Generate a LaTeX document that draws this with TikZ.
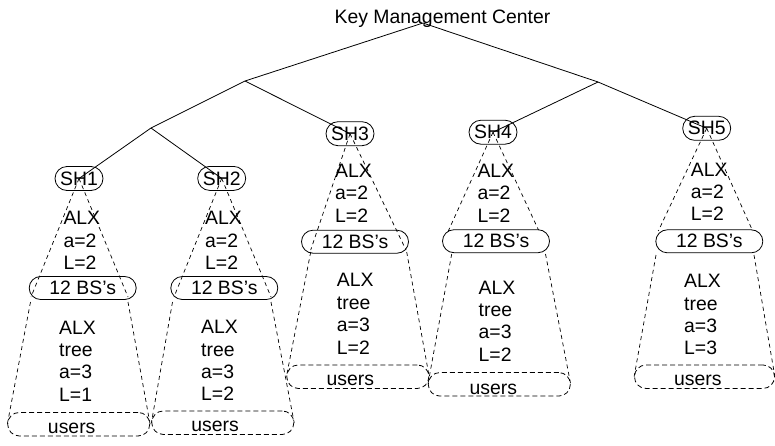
\documentclass[tikz,border=0pt]{standalone}
\usepackage{fontspec}
\setmainfont{Liberation Sans}
\begin{document}
\begin{tikzpicture}[x=1pt,y=-1pt,
  every node/.style={font=\fontsize{19.4}{22.4}\selectfont, inner sep=0pt},
  link/.style={line width=0.8pt},
  cone/.style={line width=0.7pt, dash pattern=on 4pt off 3.5pt},
  shbox/.style={draw, line width=0.8pt, rounded corners=12pt, minimum width=48pt, minimum height=24pt},
  bsbox/.style={draw, line width=0.8pt, rounded corners=11.5pt, minimum width=107pt, minimum height=23pt},
  userbox/.style={draw, line width=0.8pt, dash pattern=on 5pt off 3pt, rounded corners=11.5pt, minimum width=142pt, minimum height=23.5pt},
  params/.style={anchor=north west, align=left},
]
\useasboundingbox (0,0) rectangle (775,445);

% key management center and the branching points of the tree
\node[anchor=base] (kmc) at (442.5,23) {Key Management Center};
\coordinate (root) at (423,23);
\coordinate (j1) at (245,81);
\coordinate (j2) at (151,128);
\coordinate (j3) at (598,82);

% column 1
\node[shbox] (sh1) at (79,178.5) {SH1};
\node[params] (up1) at (63.3,211.1) {ALX\\a=2\\L=2};
\node[bsbox] (bs1) at (82.7,288) {12 BS’s};
\node[params] (lo1) at (59,320.6) {ALX\\tree\\a=3\\L=1};
\node[userbox] (ub1) at (78.7,424.2) {};
\node[anchor=base] (ut1) at (71.7,433) {users};
\coordinate (c1a) at (31,297);
\coordinate (c1b) at (128,297);
\coordinate (c1c) at (30.5,302);
\coordinate (c1d) at (128,302);

% column 2
\node[shbox] (sh2) at (221.7,178.4) {SH2};
\node[params] (up2) at (205,211.1) {ALX\\a=2\\L=2};
\node[bsbox] (bs2) at (224.3,288) {12 BS’s};
\node[params] (lo2) at (201,320.1) {ALX\\tree\\a=3\\L=2};
\node[userbox] (ub2) at (222.8,422.7) {};
\node[anchor=base] (ut2) at (215,431.7) {users};
\coordinate (c2a) at (174,297);
\coordinate (c2b) at (271,297);
\coordinate (c2c) at (172.5,302);
\coordinate (c2d) at (271,302);

% column 3
\node[shbox] (sh3) at (350,133.7) {SH3};
\node[params] (up3) at (335,163.8) {ALX\\a=2\\L=2};
\node[bsbox] (bs3) at (355,241.7) {12 BS’s};
\node[params] (lo3) at (336.7,273.4) {ALX\\tree\\a=3\\L=2};
\node[userbox] (ub3) at (357.8,376.7) {};
\node[anchor=base] (ut3) at (350.3,385) {users};
\coordinate (c3a) at (310.7,250);
\coordinate (c3b) at (406,250);
\coordinate (c3c) at (310.7,252);
\coordinate (c3d) at (406.7,252);

% column 4
\node[shbox] (sh4) at (493,132.2) {SH4};
\node[params] (up4) at (477.3,163.8) {ALX\\a=2\\L=2};
\node[bsbox] (bs4) at (496,241.2) {12 BS’s};
\node[params] (lo4) at (478.5,280.6) {ALX\\tree\\a=3\\L=2};
\node[userbox] (ub4) at (499.3,384.3) {};
\node[anchor=base] (ut4) at (493.3,394) {users};
\coordinate (c4a) at (448.3,231);
\coordinate (c4b) at (538.5,230);
\coordinate (c4c) at (451.7,254);
\coordinate (c4d) at (545.5,254);

% column 5
\node[shbox] (sh5) at (706.7,128.3) {SH5};
\node[params] (up5) at (690.7,162.6) {ALX\\a=2\\L=2};
\node[bsbox] (bs5) at (709.3,241.3) {12 BS’s};
\node[params] (lo5) at (684,274.1) {ALX\\tree\\a=3\\L=3};
\node[userbox, minimum width=140pt] (ub5) at (704.5,376.7) {};
\node[anchor=base] (ut5) at (697.8,385) {users};
\coordinate (c5a) at (658.3,231);
\coordinate (c5b) at (752.7,231);
\coordinate (c5c) at (656,255);
\coordinate (c5d) at (754,255);

% solid tree links
\draw[link] (root) -- (j1) -- (j2) -- (sh1.center);
\draw[link] (j2) -- (sh2.center);
\draw[link] (j1) -- (sh3.center);
\draw[link] (root) -- (j3) -- (sh5.center);
\draw[link] (j3) -- (sh4.center);

% dashed cones below each server head
\foreach \i in {1,...,5}{
  \draw[cone] (sh\i.center) -- (c\i a);
  \draw[cone] (sh\i.center) -- (c\i b);
  \draw[cone] (c\i c) -- (ub\i.west);
  \draw[cone] (c\i d) -- (ub\i.east);
}
\end{tikzpicture}
\end{document}
